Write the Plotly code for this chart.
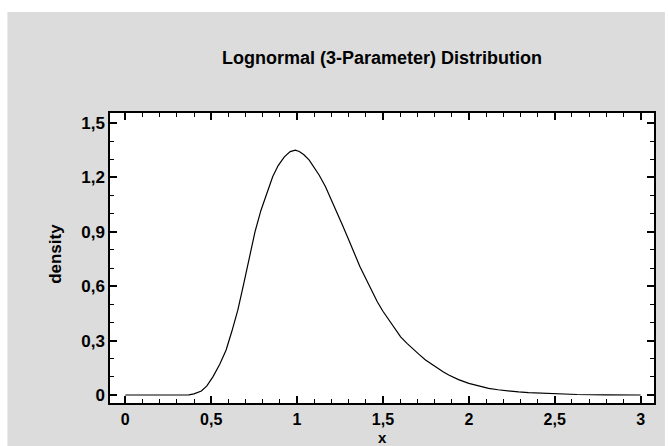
import plotly.graph_objects as go

# Data
x_vals = [0.0, 0.1, 0.2, 0.3, 0.37, 0.40, 0.443, 0.475, 0.51, 0.55, 0.587, 0.62, 0.655, 0.69,
          0.723, 0.755, 0.79, 0.825, 0.858, 0.89, 0.926, 0.96, 0.99, 1.013, 1.04, 1.071,
          1.10, 1.129, 1.165, 1.197, 1.23, 1.264, 1.30, 1.332, 1.365, 1.40, 1.435, 1.467,
          1.50, 1.535, 1.57, 1.603, 1.64, 1.67, 1.71, 1.748, 1.80, 1.85, 1.883, 1.94, 2.0,
          2.06, 2.115, 2.17, 2.231, 2.29, 2.347, 2.42, 2.5, 2.63, 2.8, 3.0]
density_vals = [0.0, 0.0, 0.0, 0.0, 0.001, 0.006, 0.022, 0.05, 0.10, 0.17, 0.248, 0.35, 0.468, 0.615,
                0.762, 0.90, 1.019, 1.12, 1.203, 1.265, 1.313, 1.342, 1.35, 1.343, 1.325, 1.295,
                1.255, 1.212, 1.15, 1.084, 1.01, 0.937, 0.858, 0.781, 0.71, 0.643, 0.577, 0.514,
                0.462, 0.413, 0.365, 0.321, 0.285, 0.257, 0.224, 0.193, 0.158, 0.128, 0.11, 0.085, 0.064,
                0.049, 0.037, 0.029, 0.022, 0.017, 0.013, 0.01, 0.007, 0.003, 0.001, 0.0]

title_text = "Lognormal (3-Parameter) Distribution"
x_label = "x"
y_label = "density"

FONT = "Liberation Sans, Arial, sans-serif"

fig = go.Figure()
fig.add_trace(go.Scatter(x=x_vals, y=density_vals, mode="lines",
                         line=dict(color="black", width=1.2), showlegend=False,
                         hoverinfo="skip"))

axis_common = dict(
    showline=True, linecolor="black", linewidth=1.5, mirror="allticks",
    ticks="inside", ticklen=7, tickwidth=1.5, tickcolor="black",
    showgrid=False, zeroline=False,
)

fig.update_xaxes(range=[-0.089, 3.078], dtick=0.5, tick0=0, ticklabelstandoff=1,
                 tickfont=dict(family=FONT, size=16, color="black", weight="bold"),
                 minor=dict(dtick=0.1, ticks="inside", ticklen=4, tickwidth=1.2, tickcolor="black"),
                 **axis_common)
fig.update_yaxes(range=[-0.044, 1.555], dtick=0.3, tick0=0,
                 tickfont=dict(family=FONT, size=17, color="black", weight="bold"),
                 minor=dict(dtick=0.1, ticks="inside", ticklen=4, tickwidth=1.2, tickcolor="black"),
                 **axis_common)

fig.update_layout(
    width=668, height=446,
    margin=dict(l=110, r=12, t=113, b=43),
    paper_bgcolor="white",
    plot_bgcolor="white",
    separators=",.",
    title=dict(text=title_text, x=0.5, xref="paper", xanchor="center",
               y=1 - 58 / 446, yref="container", yanchor="middle",
               font=dict(family=FONT, size=18, color="black", weight="bold")),
    shapes=[
        dict(type="rect", xref="paper", yref="paper", x0=-0.1886, x1=1.0201,
             y0=-0.148, y1=1.3483, fillcolor="#dcdcdc", line=dict(width=0), layer="below"),
        dict(type="rect", xref="paper", yref="paper", x0=0, x1=1, y0=0, y1=1,
             fillcolor="white", line=dict(width=0), layer="below"),
    ],
    annotations=[
        dict(text=y_label, xref="paper", yref="paper", x=-0.1007, y=0.515,
             xanchor="center", yanchor="middle", textangle=-90, showarrow=False,
             font=dict(family=FONT, size=17, color="black", weight="bold")),
        dict(text=x_label, xref="paper", yref="paper", x=0.5, y=(403 - 437) / 290,
             xanchor="center", yanchor="middle", showarrow=False,
             font=dict(family=FONT, size=15, color="black", weight="bold")),
    ],
)

fig.write_html("out.html")
